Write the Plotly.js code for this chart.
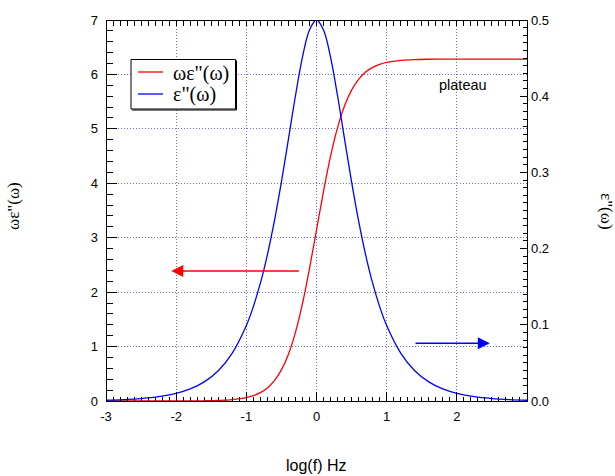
<!DOCTYPE html>
<html>
<head>
<meta charset="utf-8">
<script src="https://cdn.plot.ly/plotly-3.0.1.min.js"></script>
<style>
html,body{margin:0;padding:0;background:#fff;}
#wrap{position:relative;width:615px;height:476px;}
#chart{position:absolute;left:0;top:0;width:615px;height:476px;}
#frame{position:absolute;left:0;top:0;width:615px;height:476px;pointer-events:none;}
</style>
</head>
<body>
<div id="wrap"><div id="chart"></div></div>
<script>
// log10 of frequency (x axis)
const logF = [-3, -2.75, -2.5, -2.25, -2, -1.8, -1.6, -1.4, -1.2, -1.0, -0.9, -0.8, -0.7, -0.6, -0.5, -0.4, -0.3, -0.2, -0.1, 0,
  0.1, 0.2, 0.3, 0.4, 0.5, 0.6, 0.7, 0.8, 0.9, 1.0, 1.2, 1.4, 1.6, 1.8, 2.0, 2.25, 2.5, 2.75, 3];
// ωε''(ω), left axis (red)
const omegaEps = [0.00001, 0.00002, 0.00006, 0.0002, 0.0006, 0.0016, 0.004, 0.010, 0.025, 0.062, 0.098, 0.154, 0.241, 0.373, 0.571, 0.860, 1.261, 1.789, 2.431, 3.142,
  3.853, 4.494, 5.022, 5.424, 5.712, 5.910, 6.043, 6.129, 6.185, 6.221, 6.258, 6.273, 6.279, 6.282, 6.283, 6.283, 6.283, 6.283, 6.283];
// ε''(ω), right axis (blue)
const epsLoss = [0.0010, 0.0018, 0.0032, 0.0056, 0.0100, 0.0158, 0.0251, 0.0398, 0.0629, 0.0990, 0.1239, 0.1546, 0.1919, 0.2363, 0.2875, 0.3436, 0.4006, 0.4513, 0.4870, 0.5000,
  0.4870, 0.4513, 0.4006, 0.3436, 0.2875, 0.2363, 0.1919, 0.1546, 0.1239, 0.0990, 0.0629, 0.0398, 0.0251, 0.0158, 0.0100, 0.0056, 0.0032, 0.0018, 0.0010];

const xTickVals = [-3, -2, -1, 0, 1, 2];
const xTickText = ["-3", "-2", "-1", "0", "1", "2"];
const yTickVals = [0, 1, 2, 3, 4, 5, 6, 7];
const y2TickVals = [0, 0.1, 0.2, 0.3, 0.4, 0.5];
const y2TickText = ["0.0", "0.1", "0.2", "0.3", "0.4", "0.5"];

const seriesNames = ['ωε"(ω)', 'ε"(ω)'];
const seriesColors = ['#ff0000', '#0000ff'];
const xTitle = 'log(f) Hz';
const yTitle = 'ωε"(ω)';
const y2Title = 'ε"(ω)';
const noteText = 'plateau';

const sans = 'Liberation Sans, Arial, sans-serif';
const serif = 'Liberation Serif, Times New Roman, serif';
const gridCol = '#6a6aff';

// plot-area geometry (pixels)
const W = 615, H = 476, ML = 106, MR = 88, MT = 20, MB = 75;
const PW = W - ML - MR, PH = H - MT - MB;
const px = v => (v - ML) / PW;
const py = v => (H - MB - v) / PH;

const traces = [
  {x: logF, y: omegaEps, name: seriesNames[0], type: 'scatter', mode: 'lines',
   line: {color: seriesColors[0], width: 1.3, shape: 'spline'}, yaxis: 'y'},
  {x: logF, y: epsLoss, name: seriesNames[1], type: 'scatter', mode: 'lines',
   line: {color: seriesColors[1], width: 1.3, shape: 'spline'}, yaxis: 'y2'}
];

// hand-built legend box
const shapes = [
  {type: 'rect', xref: 'paper', yref: 'paper', x0: px(131), x1: px(235.5), y0: py(109), y1: py(59.5),
   line: {color: '#000', width: 1}, fillcolor: '#fff', layer: 'above'},
  {type: 'line', xref: 'paper', yref: 'paper', x0: px(132), x1: px(236.5), y0: py(110), y1: py(110),
   line: {color: '#000', width: 1}, layer: 'above'},
  {type: 'line', xref: 'paper', yref: 'paper', x0: px(236.5), x1: px(236.5), y0: py(60.5), y1: py(110),
   line: {color: '#000', width: 1}, layer: 'above'},
  {type: 'line', xref: 'paper', yref: 'paper', x0: px(138), x1: px(163), y0: py(72), y1: py(72),
   line: {color: seriesColors[0], width: 1.3}, layer: 'above'},
  {type: 'line', xref: 'paper', yref: 'paper', x0: px(138), x1: px(163), y0: py(94), y1: py(94),
   line: {color: seriesColors[1], width: 1.3}, layer: 'above'}
];

const layout = {
  width: W, height: H,
  margin: {l: ML, r: MR, t: MT, b: MB},
  paper_bgcolor: '#fff', plot_bgcolor: '#fff',
  font: {family: sans, size: 13, color: '#000'},
  showlegend: false,
  xaxis: {range: [-3, 3], tickmode: 'array', tickvals: xTickVals, ticktext: xTickText,
    ticks: '', showline: false,
    showgrid: true, gridcolor: gridCol, griddash: '1px,2px',
    zeroline: false, ticklabelstandoff: 6},
  yaxis: {range: [0, 7], tickmode: 'array', tickvals: yTickVals,
    ticks: '', showline: false,
    showgrid: true, gridcolor: gridCol, griddash: '1px,2px',
    zeroline: false, ticklabelstandoff: 7},
  yaxis2: {range: [0, 0.5], overlaying: 'y', side: 'right', tickmode: 'array',
    tickvals: y2TickVals, ticktext: y2TickText,
    ticks: '', showline: false,
    showgrid: false, zeroline: false, ticklabelstandoff: 3},
  shapes: shapes,
  annotations: [
    {text: xTitle, x: px(316), y: py(465), xref: 'paper', yref: 'paper', xanchor: 'center', yanchor: 'middle',
     showarrow: false, font: {family: sans, size: 16, color: '#000'}},
    {text: yTitle, textangle: -90, x: px(13), y: py(206), xref: 'paper', yref: 'paper', xanchor: 'center', yanchor: 'middle',
     showarrow: false, font: {family: serif, size: 17, color: '#000'}},
    {text: y2Title, textangle: 90, x: px(606), y: py(211), xref: 'paper', yref: 'paper',
     xanchor: 'center', yanchor: 'middle',
     showarrow: false, font: {family: serif, size: 17, color: '#000'}},
    {text: seriesNames[0], x: px(171), y: py(73), xref: 'paper', yref: 'paper', xanchor: 'left', yanchor: 'middle',
     showarrow: false, font: {family: serif, size: 20, color: '#000'}},
    {text: seriesNames[1], x: px(171), y: py(94), xref: 'paper', yref: 'paper', xanchor: 'left', yanchor: 'middle',
     showarrow: false, font: {family: serif, size: 20, color: '#000'}},
    {text: noteText, x: 2.09, y: 5.81, xref: 'x', yref: 'y', showarrow: false,
     font: {family: sans, size: 14.5, color: '#000'}},
    {x: -2.07, y: 2.39, ax: -0.23, ay: 2.39, xref: 'x', yref: 'y', axref: 'x', ayref: 'y',
     showarrow: true, arrowhead: 2, arrowsize: 1.6, arrowwidth: 1.5, arrowcolor: seriesColors[0], text: ''},
    {x: 2.47, y: 1.06, ax: 1.39, ay: 1.06, xref: 'x', yref: 'y', axref: 'x', ayref: 'y',
     showarrow: true, arrowhead: 2, arrowsize: 1.6, arrowwidth: 1.5, arrowcolor: seriesColors[1], text: ''}
  ]
};

Plotly.newPlot('chart', traces, layout, {displayModeBar: false, staticPlot: true}).then(gd => {
  // frame and inward tick marks, placed with Plotly's own axis scales
  const fl = gd._fullLayout;
  const xa = fl.xaxis, ya = fl.yaxis, ya2 = fl.yaxis2;
  const X = v => xa._offset + xa.l2p(v);
  const Y = v => ya._offset + ya.l2p(v);
  const Y2 = v => ya2._offset + ya2.l2p(v);
  const c = v => Math.floor(v) + 0.5;
  const L = c(X(-3)), R = c(X(3)), T = c(Y(7)), B = c(Y(0));
  let d = `M${L},${T}H${R}V${B}H${L}Z`;
  for (let i = 0; i <= 60; i++) {
    const xv = c(X(-3 + i / 10));
    d += `M${xv},${B}v${-(i % 10 === 0 ? 10 : 5)}`;
    d += `M${xv},${T}v5`;
  }
  for (let i = 0; i <= 35; i++) {
    const yv = c(Y(i / 5));
    d += `M${L},${yv}h${i % 5 === 0 ? 10 : 6}`;
  }
  for (let i = 0; i <= 50; i++) {
    const yv = c(Y2(i / 100));
    d += `M${R},${yv}h${-(i % 10 === 0 ? 8 : 5)}`;
  }
  const NS = 'http://www.w3.org/2000/svg';
  const svg = document.createElementNS(NS, 'svg');
  svg.setAttribute('id', 'frame');
  svg.setAttribute('width', W);
  svg.setAttribute('height', H);
  const path = document.createElementNS(NS, 'path');
  path.setAttribute('d', d);
  path.setAttribute('fill', 'none');
  path.setAttribute('stroke', '#000');
  path.setAttribute('stroke-width', '1');
  path.setAttribute('shape-rendering', 'crispEdges');
  svg.appendChild(path);
  document.getElementById('wrap').appendChild(svg);
});
</script>
</body>
</html>
